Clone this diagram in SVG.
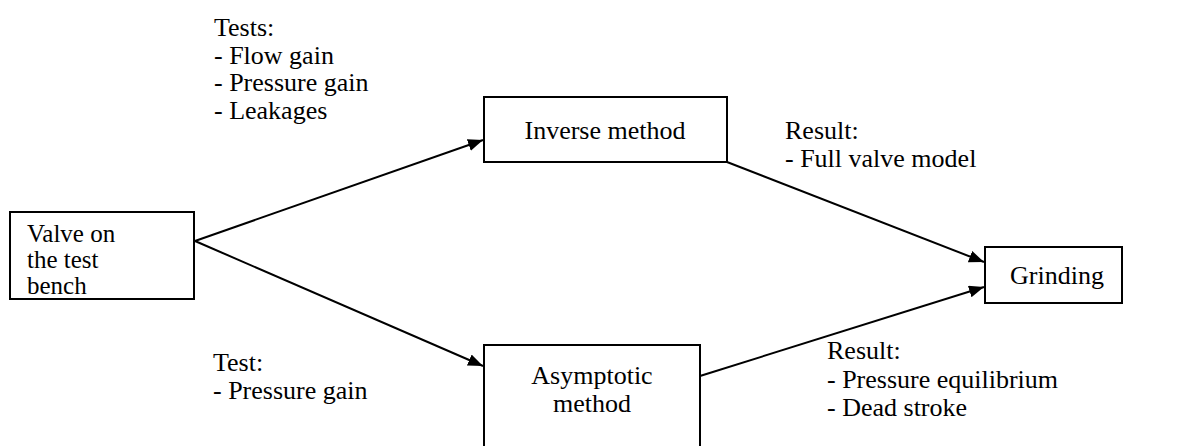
<svg xmlns="http://www.w3.org/2000/svg" width="1196" height="446" viewBox="0 0 1196 446">
<style>
text{font-family:"Liberation Serif","Times New Roman",serif;font-size:26px;fill:#000}
.small{font-size:25px}
.box{fill:#fff;stroke:#000;stroke-width:2}
.edge{stroke:#000;stroke-width:2;fill:none}
</style>
<defs>
<marker id="ah" markerUnits="userSpaceOnUse" markerWidth="16" markerHeight="13" refX="15" refY="6" orient="auto">
<path d="M0,0 L15,6 L0,12 Z" fill="#000"/>
</marker>
</defs>
<rect width="1196" height="446" fill="#fff"/>
<g id="connectors">
<line class="edge" x1="195" y1="241" x2="483" y2="140" marker-end="url(#ah)"/>
<line class="edge" x1="195" y1="241" x2="483" y2="366" marker-end="url(#ah)"/>
<line class="edge" x1="727" y1="162" x2="984" y2="262" marker-end="url(#ah)"/>
<line class="edge" x1="700" y1="376" x2="984" y2="287" marker-end="url(#ah)"/>
</g>
<g id="valve">
<rect class="box" x="10" y="212" width="184" height="87"/>
<text class="small" x="27" y="242">Valve on<tspan x="27" dy="26">the test</tspan><tspan x="27" dy="26">bench</tspan></text>
</g>
<g id="inverse">
<rect class="box" x="484" y="97" width="243" height="65"/>
<text x="605" y="139" text-anchor="middle">Inverse method</text>
</g>
<g id="asymptotic">
<rect class="box" x="484" y="345" width="216" height="130"/>
<text x="592" y="384" text-anchor="middle">Asymptotic<tspan x="592" dy="28">method</tspan></text>
</g>
<g id="grinding">
<rect class="box" x="985" y="247" width="137" height="56"/>
<text x="1010" y="284">Grinding</text>
</g>
<g id="tests-label">
<text x="214" y="36">Tests:<tspan x="214" dy="27.5">- Flow gain</tspan><tspan x="214" dy="27.5">- Pressure gain</tspan><tspan x="214" dy="27.5">- Leakages</tspan></text>
</g>
<g id="test-label">
<text x="213" y="371">Test:<tspan x="213" dy="27.5">- Pressure gain</tspan></text>
</g>
<g id="result-upper">
<text x="785" y="139">Result:<tspan x="785" dy="27.5">- Full valve model</tspan></text>
</g>
<g id="result-lower">
<text x="827" y="359">Result:<tspan x="827" dy="29">- Pressure equilibrium</tspan><tspan x="827" dy="27.5">- Dead stroke</tspan></text>
</g>
</svg>
